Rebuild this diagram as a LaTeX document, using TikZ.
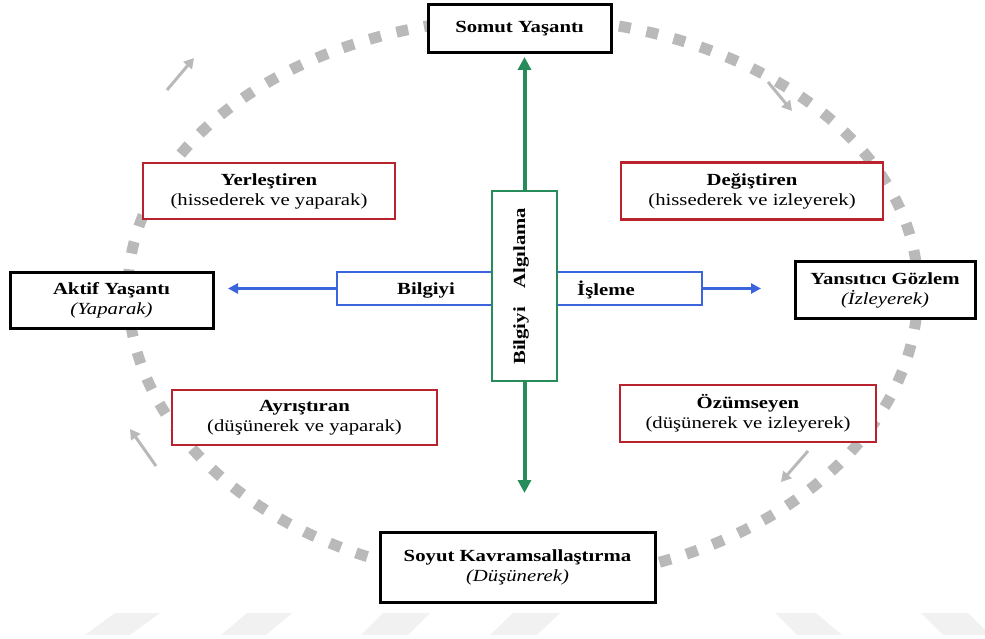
\documentclass[tikz,border=0pt]{standalone}
\usepackage{fontspec}
\setmainfont{Liberation Serif}[FakeStretch=1.22]
\usetikzlibrary{arrows.meta}
\definecolor{boxred}{RGB}{185,35,45}
\definecolor{boxgreen}{RGB}{40,140,90}
\definecolor{boxblue}{RGB}{60,100,220}
\definecolor{cyclegray}{RGB}{185,185,185}
\definecolor{wmgray}{RGB}{241,241,241}
\begin{document}
\begin{tikzpicture}[x=1pt,y=-1pt,
  txt/.style={font=\fontsize{17}{20}\selectfont, align=center},
  mainbox/.style={txt, draw=black, line width=3pt, fill=white, inner sep=0pt},
  redbox/.style={txt, draw=boxred, line width=2.5pt, fill=white, inner sep=0pt},
  greenbox/.style={draw=boxgreen, line width=2.5pt, fill=white, inner sep=0pt},
  bluebox/.style={draw=boxblue, line width=2.5pt, fill=white, inner sep=0pt},
  cycleline/.style={draw=cyclegray, line width=11pt, dash pattern=on 12pt off 16pt},
  greenarrow/.style={draw=boxgreen, line width=4pt, -{Triangle[length=13pt,width=13pt]}},
  bluearrow/.style={draw=boxblue, line width=3pt, -{Triangle[length=10pt,width=10pt]}},
  grayarrow/.style={draw=cyclegray, line width=3pt, -{Triangle[length=10pt,width=11pt]}},
  wm/.style={fill=wmgray, draw=none}
]
\useasboundingbox (0,0) rectangle (985,639);
% watermark stripes
\fill[wm] (85,635) -- (130,635) -- (160,613) -- (115,613) -- cycle;
\fill[wm] (221,635) -- (266,635) -- (292,613) -- (247,613) -- cycle;
\fill[wm] (361,635) -- (408,635) -- (430,613) -- (383,613) -- cycle;
\fill[wm] (490,635) -- (537,635) -- (560,613) -- (513,613) -- cycle;
\fill[wm] (797,635) -- (842,635) -- (816,613) -- (775,613) -- cycle;
\fill[wm] (943,635) -- (985,635) -- (985,630) -- (968,613) -- (921,613) -- cycle;
% cycle
\draw[cycleline] (918,290) arc[start angle=0,end angle=180,x radius=395pt,y radius=272pt]
  arc[start angle=180,end angle=360,x radius=395pt,y radius=290pt];
% small gray arrows
\coordinate (tl1) at (167,90); \coordinate (tl2) at (194,58);
\coordinate (tr1) at (768,82); \coordinate (tr2) at (792,111);
\coordinate (bl1) at (156,466); \coordinate (bl2) at (130,429);
\coordinate (br1) at (808,451); \coordinate (br2) at (781,482);
\draw[grayarrow] (tl1) -- (tl2);
\draw[grayarrow] (tr1) -- (tr2);
\draw[grayarrow] (bl1) -- (bl2);
\draw[grayarrow] (br1) -- (br2);
% main boxes
\node[mainbox, minimum width=183pt, minimum height=48pt] (somut) at (519.5,29) {\textbf{Somut Yaşantı}};
\node[mainbox, minimum width=203pt, minimum height=56pt] (aktif) at (111.5,300) {\textbf{Aktif Yaşantı}\\\textit{(Yaparak)}};
\node[mainbox, minimum width=180pt, minimum height=57pt] (yansitici) at (885,290) {\textbf{Yansıtıcı Gözlem}\\\textit{(İzleyerek)}};
\node[mainbox, minimum width=275pt, minimum height=70pt] (soyut) at (517.5,567) {\textbf{Soyut Kavramsallaştırma}\\\textit{(Düşünerek)}};
% red boxes
\node[redbox, minimum width=252pt, minimum height=56pt] (yer) at (269,191) {\textbf{Yerleştiren}\\(hissederek ve yaparak)};
\node[redbox, minimum width=262pt, minimum height=57pt] (deg) at (752,191) {\textbf{Değiştiren}\\(hissederek ve izleyerek)};
\node[redbox, minimum width=265pt, minimum height=55pt] (ayr) at (304.5,417.5) {\textbf{Ayrıştıran}\\(düşünerek ve yaparak)};
\node[redbox, minimum width=256pt, minimum height=57pt] (ozu) at (748,413.5) {\textbf{Özümseyen}\\(düşünerek ve izleyerek)};
% center cross
\node[bluebox, minimum width=365pt, minimum height=33pt] (blue) at (519.5,288.5) {};
\node[greenbox, minimum width=65pt, minimum height=190pt] (green) at (524.5,286) {};
\node[txt] (bilgiyiH) at (426,290) {\textbf{Bilgiyi}};
\node[txt] (isleme) at (606,290) {\textbf{İşleme}};
\node[txt, rotate=90] (algilama) at (521,248) {\textbf{Algılama}};
\node[txt, rotate=90] (bilgiyiV) at (521,336) {\textbf{Bilgiyi}};
% arrows
\coordinate (gtop) at (524.5,57);
\coordinate (gbot) at (524.5,493);
\coordinate (bleft) at (228,288.5);
\coordinate (bright) at (761,288.5);
\draw[greenarrow] (green.north) -- (gtop);
\draw[greenarrow] (green.south) -- (gbot);
\draw[bluearrow] (blue.west) -- (bleft);
\draw[bluearrow] (blue.east) -- (bright);
\end{tikzpicture}
\end{document}
